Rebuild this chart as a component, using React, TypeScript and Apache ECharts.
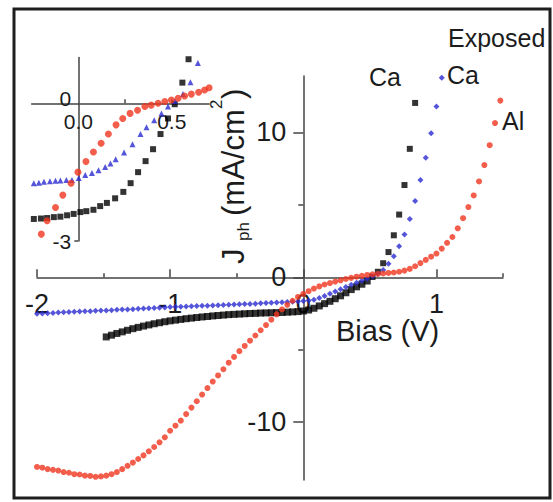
import { useEffect, useRef } from 'react';
import * as echarts from 'echarts';

// ---------- main plot axes ----------
const xRange = [-2, 1.5];
const yRange = [-14, 13.9];
const xMajorTicks = [-2, -1, 0, 1];
const xMinorTicks = [-1.5, -0.5, 0.5, 1.5];
const yMajorTicks = [-10, 0, 10];
const yMinorTicks = [-5, 5];

// ---------- inset axes ----------
const insetXRange = [-0.25, 0.7];
const insetYRange = [-3, 1];
const insetXLabels = [0, 0.5];
const insetXTicks = [0.25, 0.5];
const insetYLabels = [-3, 0];
const insetYTicks = [-3];

// ---------- main data: Ca (black squares) ----------
const caBias = [-1.48, -1.44, -1.4, -1.36, -1.32, -1.28, -1.24, -1.2, -1.16, -1.12, -1.08, -1.04, -1.0, -0.96, -0.92, -0.88, -0.84, -0.8, -0.76, -0.72, -0.68, -0.64, -0.6, -0.56, -0.52, -0.48, -0.44, -0.4, -0.36, -0.32, -0.28, -0.24, -0.2, -0.16, -0.12, -0.08, -0.04, 0.0, 0.04, 0.08, 0.12, 0.16, 0.2, 0.24, 0.28, 0.32, 0.36, 0.4, 0.44, 0.48, 0.52, 0.56, 0.6, 0.64, 0.68, 0.72, 0.76, 0.8, 0.84];
const caJ = [-4.12, -4.0, -3.88, -3.77, -3.66, -3.55, -3.46, -3.37, -3.29, -3.21, -3.14, -3.07, -3.01, -2.96, -2.91, -2.86, -2.82, -2.78, -2.74, -2.71, -2.67, -2.64, -2.61, -2.58, -2.56, -2.54, -2.52, -2.5, -2.49, -2.47, -2.46, -2.45, -2.44, -2.43, -2.41, -2.39, -2.37, -2.33, -2.26, -2.14, -1.98, -1.82, -1.66, -1.48, -1.28, -1.07, -0.85, -0.66, -0.48, -0.26, 0.02, 0.38, 0.97, 1.74, 2.9, 4.33, 6.37, 8.87, 12.04];

// ---------- main data: Exposed Ca (blue) ----------
const expBias = [-2.0, -1.96, -1.92, -1.88, -1.84, -1.8, -1.76, -1.72, -1.68, -1.64, -1.6, -1.56, -1.52, -1.48, -1.44, -1.4, -1.36, -1.32, -1.28, -1.24, -1.2, -1.16, -1.12, -1.08, -1.04, -1.0, -0.96, -0.92, -0.88, -0.84, -0.8, -0.76, -0.72, -0.68, -0.64, -0.6, -0.56, -0.52, -0.48, -0.44, -0.4, -0.36, -0.32, -0.28, -0.24, -0.2, -0.16, -0.12, -0.08, -0.04, 0.0, 0.04, 0.08, 0.12, 0.16, 0.2, 0.24, 0.28, 0.32, 0.36, 0.4, 0.44, 0.48, 0.52, 0.56, 0.6, 0.64, 0.68, 0.72, 0.76, 0.8, 0.84, 0.88, 0.92, 0.96, 1.0, 1.04];
const expJ = [-2.52, -2.5, -2.48, -2.46, -2.44, -2.42, -2.4, -2.38, -2.37, -2.35, -2.34, -2.32, -2.3, -2.29, -2.27, -2.25, -2.23, -2.22, -2.2, -2.18, -2.16, -2.14, -2.12, -2.1, -2.08, -2.06, -2.04, -2.03, -2.02, -2.0, -1.99, -1.97, -1.96, -1.95, -1.93, -1.92, -1.9, -1.88, -1.87, -1.85, -1.84, -1.82, -1.8, -1.78, -1.76, -1.74, -1.72, -1.7, -1.69, -1.67, -1.64, -1.6, -1.56, -1.43, -1.29, -1.14, -0.98, -0.82, -0.67, -0.52, -0.38, -0.24, -0.1, 0.06, 0.24, 0.5, 0.93, 1.45, 2.15, 2.95, 4.03, 5.26, 6.71, 8.26, 9.95, 11.8, 13.78];

// ---------- main data: Al (red circles) ----------
const alBias = [-2.0, -1.96, -1.92, -1.88, -1.84, -1.8, -1.76, -1.72, -1.68, -1.64, -1.6, -1.56, -1.52, -1.48, -1.44, -1.4, -1.36, -1.32, -1.28, -1.24, -1.2, -1.16, -1.12, -1.08, -1.04, -1.0, -0.96, -0.92, -0.88, -0.84, -0.8, -0.76, -0.72, -0.68, -0.64, -0.6, -0.56, -0.52, -0.48, -0.44, -0.4, -0.36, -0.32, -0.28, -0.24, -0.2, -0.16, -0.12, -0.08, -0.04, 0.0, 0.04, 0.08, 0.12, 0.16, 0.2, 0.24, 0.28, 0.32, 0.36, 0.4, 0.44, 0.48, 0.52, 0.56, 0.6, 0.64, 0.68, 0.72, 0.76, 0.8, 0.84, 0.88, 0.92, 0.96, 1.0, 1.04, 1.08, 1.12, 1.16, 1.2, 1.24, 1.28, 1.32, 1.36, 1.4, 1.44, 1.48];
const alJ = [-13.1, -13.15, -13.25, -13.3, -13.35, -13.45, -13.5, -13.6, -13.62, -13.7, -13.72, -13.78, -13.75, -13.7, -13.6, -13.45, -13.25, -13.02, -12.8, -12.55, -12.3, -12.02, -11.72, -11.4, -11.05, -10.6, -10.25, -9.9, -9.45, -9.0, -8.56, -8.1, -7.65, -7.2, -6.78, -6.35, -5.9, -5.5, -5.1, -4.74, -4.38, -4.02, -3.66, -3.3, -2.93, -2.56, -2.22, -1.9, -1.62, -1.36, -1.15, -0.96, -0.78, -0.63, -0.5, -0.4, -0.3, -0.21, -0.12, -0.04, 0.04, 0.1, 0.16, 0.2, 0.23, 0.26, 0.3, 0.33, 0.38, 0.46, 0.58, 0.76, 0.98, 1.2, 1.42, 1.64, 1.98, 2.38, 2.78, 3.38, 4.08, 4.85, 5.65, 6.62, 7.75, 9.12, 10.65, 12.2];

// ---------- inset data ----------
const insetCaBias = [-0.238, -0.2, -0.167, -0.131, -0.096, -0.06, -0.025, 0.011, 0.043, 0.081, 0.117, 0.153, 0.197, 0.241, 0.28, 0.32, 0.36, 0.4, 0.44, 0.48, 0.516, 0.557, 0.59];
const insetCaJ = [-2.52, -2.51, -2.5, -2.48, -2.47, -2.44, -2.41, -2.37, -2.35, -2.32, -2.24, -2.17, -2.07, -1.93, -1.74, -1.5, -1.26, -1.0, -0.67, -0.33, -0.02, 0.45, 0.96];
const insetExpBias = [-0.238, -0.211, -0.184, -0.152, -0.122, -0.096, -0.064, -0.034, 0.002, 0.037, 0.073, 0.108, 0.144, 0.172, 0.2, 0.245, 0.29, 0.333, 0.365, 0.406, 0.445, 0.48, 0.516, 0.56, 0.6, 0.64];
const insetExpJ = [-1.74, -1.73, -1.71, -1.7, -1.69, -1.68, -1.67, -1.67, -1.63, -1.56, -1.52, -1.46, -1.39, -1.31, -1.22, -1.07, -0.89, -0.67, -0.52, -0.37, -0.22, -0.07, 0.05, 0.2, 0.46, 0.88];
const insetAlBias = [-0.198, -0.167, -0.122, -0.083, -0.039, -0.002, 0.041, 0.081, 0.122, 0.161, 0.202, 0.238, 0.277, 0.317, 0.356, 0.39, 0.427, 0.463, 0.498, 0.534, 0.569, 0.605, 0.644, 0.676, 0.7];
const insetAlJ = [-2.85, -2.56, -2.27, -2.0, -1.74, -1.5, -1.27, -1.06, -0.87, -0.67, -0.47, -0.33, -0.22, -0.15, -0.07, -0.04, 0.0, 0.04, 0.07, 0.11, 0.16, 0.2, 0.24, 0.29, 0.34];

const FONT = '"Liberation Sans", Arial, Helvetica, sans-serif';
const AXIS_COLOR = '#444444';
const TEXT_COLOR = '#1c1c1c';
const RED = '#f0361f';
const BLUE = '#2b2bcf';
const BLACK = '#000000';

// grid rectangles (pixels)
const MAIN = { left: 37, top: 76, width: 466, height: 404 };
const INSET = { left: 31.6, top: 57.4, width: 177.5, height: 183.6 };

// offset that puts an axis through the other axis' zero
const zeroOffsetX = (g: typeof MAIN, yr: number[]) => -(g.height - (yr[1] / (yr[1] - yr[0])) * g.height);
const zeroOffsetY = (g: typeof MAIN, xr: number[]) => -((-xr[0] / (xr[1] - xr[0])) * g.width);

export default function App() {
  const ref = useRef<HTMLDivElement>(null);

  useEffect(() => {
    if (!ref.current) return;
    const chart = echarts.init(ref.current, null, { renderer: 'svg' });
    const pts = (xs: number[], ys: number[]) => xs.map((x, i) => [x, ys[i]]);
    const lineStyle = { color: AXIS_COLOR, width: 1.5 };
    const gridOpts = { containLabel: false, outerBoundsMode: 'none' };
    const mainXOff = zeroOffsetX(MAIN, yRange);
    const mainYOff = zeroOffsetY(MAIN, xRange);
    const insetXOff = zeroOffsetX(INSET, insetYRange);
    const insetYOff = zeroOffsetY(INSET, insetXRange);
    const labelBase = { color: TEXT_COLOR, fontFamily: FONT };

    const option: any = {
      animation: false,
      backgroundColor: '#ffffff',
      grid: [{ ...MAIN, ...gridOpts }, { ...MAIN, ...gridOpts }, { ...INSET, ...gridOpts }],
      xAxis: [
        {
          gridIndex: 0, type: 'value', min: xRange[0], max: xRange[1], position: 'bottom', offset: mainXOff,
          axisLine: { onZero: false, lineStyle },
          axisTick: { customValues: xMajorTicks, inside: true, length: 8, lineStyle },
          axisLabel: { ...labelBase, customValues: xMajorTicks, formatter: (v: number) => String(v), fontSize: 27, margin: 13 },
          splitLine: { show: false },
        },
        {
          gridIndex: 1, type: 'value', min: xRange[0], max: xRange[1], position: 'bottom', offset: mainXOff,
          axisLine: { show: false, onZero: false },
          axisTick: { customValues: xMinorTicks, inside: true, length: 4, lineStyle },
          axisLabel: { show: false },
          splitLine: { show: false },
        },
        {
          gridIndex: 2, type: 'value', min: insetXRange[0], max: insetXRange[1], position: 'bottom', offset: insetXOff,
          axisLine: { onZero: false, lineStyle },
          axisTick: { customValues: insetXTicks, inside: true, length: 4, lineStyle },
          axisLabel: { ...labelBase, customValues: insetXLabels, formatter: (v: number) => v.toFixed(1), fontSize: 21, margin: 8 },
          splitLine: { show: false },
        },
      ],
      yAxis: [
        {
          gridIndex: 0, type: 'value', min: yRange[0], max: yRange[1], position: 'left', offset: mainYOff,
          axisLine: { onZero: false, lineStyle },
          axisTick: { customValues: yMajorTicks, inside: false, length: 10, lineStyle },
          axisLabel: { ...labelBase, customValues: yMajorTicks, formatter: (v: number) => String(v), fontSize: 27, margin: 17 },
          splitLine: { show: false },
        },
        {
          gridIndex: 1, type: 'value', min: yRange[0], max: yRange[1], position: 'left', offset: mainYOff,
          axisLine: { show: false, onZero: false },
          axisTick: { customValues: yMinorTicks, inside: false, length: 5, lineStyle },
          axisLabel: { show: false },
          splitLine: { show: false },
        },
        {
          gridIndex: 2, type: 'value', min: insetYRange[0], max: insetYRange[1], position: 'left', offset: insetYOff,
          axisLine: { onZero: false, lineStyle },
          axisTick: { customValues: insetYTicks, inside: false, length: 4, lineStyle },
          axisLabel: {
            ...labelBase,
            customValues: insetYLabels,
            formatter: (v: number) => (v === 0 ? '{up|0}' : String(v)),
            rich: { up: { fontSize: 21, fontFamily: FONT, color: TEXT_COLOR, padding: [0, 0, 9, 0] } },
            fontSize: 21, margin: 7,
          },
          splitLine: { show: false },
        },
      ],
      series: [
        {
          name: 'Ca', type: 'scatter', xAxisIndex: 0, yAxisIndex: 0, data: pts(caBias, caJ), symbol: 'rect',
          symbolSize: (v: number[]) => (v[0] < 0.5 ? 7 : 6), itemStyle: { color: BLACK }, silent: true,
        },
        { name: 'Exposed Ca', type: 'scatter', xAxisIndex: 0, yAxisIndex: 0, data: pts(expBias, expJ), symbol: 'diamond', symbolSize: 6, itemStyle: { color: BLUE }, silent: true },
        { name: 'Al', type: 'scatter', xAxisIndex: 0, yAxisIndex: 0, data: pts(alBias, alJ), symbol: 'circle', symbolSize: 6, itemStyle: { color: RED }, silent: true },
        { name: 'Ca inset', type: 'scatter', xAxisIndex: 2, yAxisIndex: 2, data: pts(insetCaBias, insetCaJ), symbol: 'rect', symbolSize: 6, itemStyle: { color: BLACK }, silent: true, clip: false },
        { name: 'Exposed Ca inset', type: 'scatter', xAxisIndex: 2, yAxisIndex: 2, data: pts(insetExpBias, insetExpJ), symbol: 'triangle', symbolSize: 6, itemStyle: { color: BLUE }, silent: true, clip: false },
        { name: 'Al inset', type: 'scatter', xAxisIndex: 2, yAxisIndex: 2, data: pts(insetAlBias, insetAlJ), symbol: 'circle', symbolSize: 7, itemStyle: { color: RED }, silent: true, clip: false },
      ],
      graphic: [
        { type: 'rect', silent: true, z: 100, shape: { x: 14, y: 9, width: 536, height: 489 }, style: { fill: 'none', stroke: '#1e1e1e', lineWidth: 3 } },
        { type: 'text', silent: true, z: 100, x: 369, y: 77, style: { text: 'Ca', fontSize: 25, fontFamily: FONT, fill: TEXT_COLOR, align: 'left', verticalAlign: 'middle' } },
        { type: 'text', silent: true, z: 100, x: 448, y: 37.5, style: { text: 'Exposed', fontSize: 25, fontFamily: FONT, fill: TEXT_COLOR, align: 'left', verticalAlign: 'middle' } },
        { type: 'text', silent: true, z: 100, x: 447, y: 75, style: { text: 'Ca', fontSize: 25, fontFamily: FONT, fill: TEXT_COLOR, align: 'left', verticalAlign: 'middle' } },
        { type: 'text', silent: true, z: 100, x: 502, y: 121, style: { text: 'Al', fontSize: 25, fontFamily: FONT, fill: TEXT_COLOR, align: 'left', verticalAlign: 'middle' } },
        { type: 'text', silent: true, z: 100, x: 336, y: 331, style: { text: 'Bias (V)', fontSize: 29, fontFamily: FONT, fill: TEXT_COLOR, align: 'left', verticalAlign: 'middle' } },
        {
          type: 'group', silent: true, z: 100, x: 233, y: 264, rotation: Math.PI / 2,
          children: [
            { type: 'text', x: 0, y: 0, style: { text: 'J', fontSize: 31, fontFamily: FONT, fill: TEXT_COLOR, align: 'left', verticalAlign: 'middle' } },
            { type: 'text', x: 23, y: 10, style: { text: 'ph', fontSize: 17, fontFamily: FONT, fill: TEXT_COLOR, align: 'left', verticalAlign: 'middle' } },
            { type: 'text', x: 48, y: 0, style: { text: '(mA/cm', fontSize: 31, fontFamily: FONT, fill: TEXT_COLOR, align: 'left', verticalAlign: 'middle' } },
            { type: 'text', x: 155, y: -17, style: { text: '2', fontSize: 17, fontFamily: FONT, fill: TEXT_COLOR, align: 'left', verticalAlign: 'middle' } },
            { type: 'text', x: 165, y: 0, style: { text: ')', fontSize: 31, fontFamily: FONT, fill: TEXT_COLOR, align: 'left', verticalAlign: 'middle' } },
          ],
        },
      ],
    };

    chart.setOption(option);
    return () => chart.dispose();
  }, []);

  return (
    <div
      ref={ref}
      style={{ position: 'fixed', left: 0, top: 0, width: 553, height: 502, background: '#ffffff' }}
    />
  );
}
